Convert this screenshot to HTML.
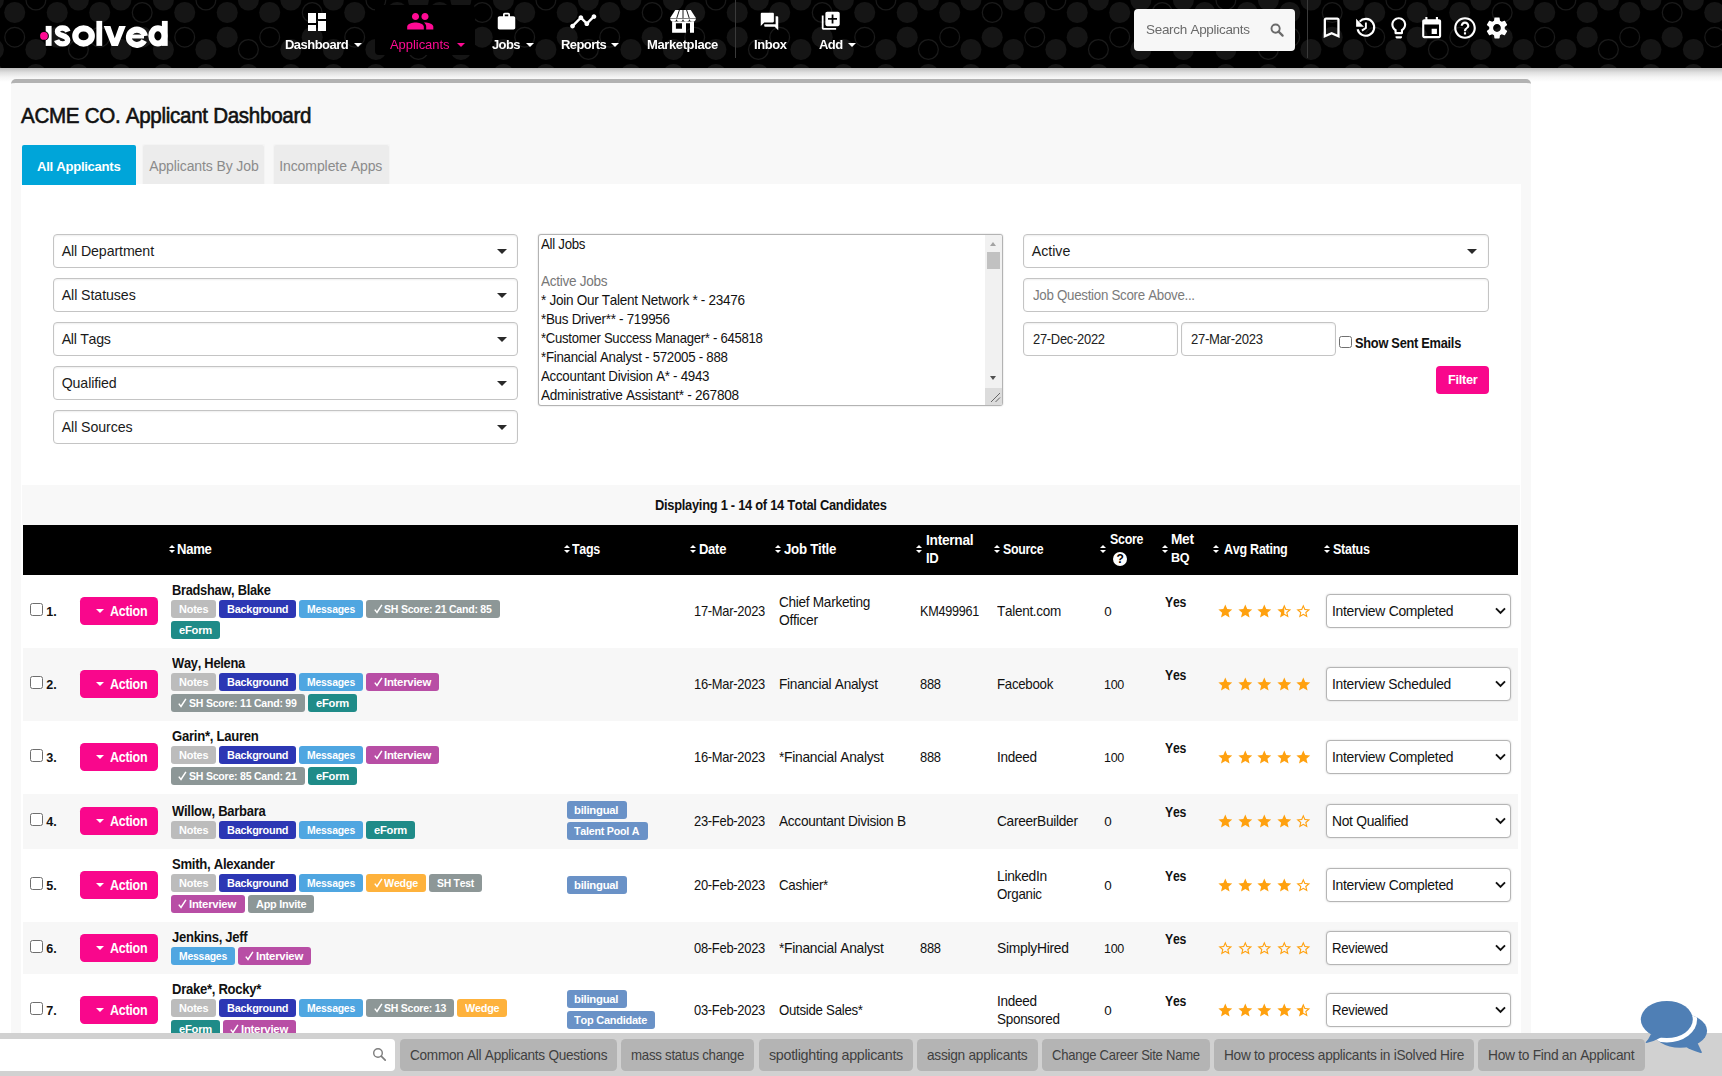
<!DOCTYPE html>
<html><head><meta charset="utf-8"><title>Applicant Dashboard</title>
<style>
*{box-sizing:border-box;margin:0;padding:0}
html,body{width:1722px;height:1076px;overflow:hidden;background:#fff;font-family:"Liberation Sans",sans-serif;color:#111;font-kerning:none}
body{position:relative}
#w{position:absolute;left:0;top:0;width:1722px;height:1076px;overflow:hidden}
.abs{position:absolute}
.t{position:absolute;white-space:pre;transform-origin:0 0}
#hdr{position:absolute;left:0;top:0;width:1722px;height:68px;background:#000;overflow:hidden;will-change:transform}
#hdr svg.pat{position:absolute;left:0;top:0}
#shadow{position:absolute;left:0;top:68px;width:1722px;height:14px;background:linear-gradient(#bcbcbc,#dedede 30%,#f4f4f4 65%,#fff)}
.vdiv{position:absolute;top:0;width:1px;height:58px;background:#3a3a3a}
</style></head>
<body>
<div id="w">
<div id="shadow"></div>
<div class="abs" style="left:11px;top:79px;width:1520px;height:1000px;background:#f8f8f8;border-top:4px solid #b2b2b2;border-radius:5px 5px 0 0"></div>
<div class="t" style="left:21.0px;top:102.6px;font-size:21.4px;line-height:26px;letter-spacing:-0.3px;transform:scaleX(0.961);-webkit-text-stroke:0.6px #111;">ACME CO. Applicant Dashboard</div>
<div class="abs" style="left:22px;top:145px;width:114.3px;height:40px;background:#00a5d9;border-radius:2px 2px 0 0;z-index:1"></div>
<div class="t" style="left:37.0px;top:158.3px;font-size:13.5px;line-height:18px;letter-spacing:-0.3px;transform:scaleX(0.972);font-weight:bold;color:#fff;z-index:2;">All Applicants</div>
<div class="abs" style="left:142px;top:144px;width:123px;height:40px;background:#ececec;border:1px solid #f4f4f4;border-bottom:0;border-radius:3px 3px 0 0"></div>
<div class="t" style="left:149.2px;top:157.4px;font-size:14px;line-height:18px;letter-spacing:-0.11px;color:#8b8b8b;">Applicants By Job</div>
<div class="abs" style="left:272.5px;top:144px;width:117px;height:40px;background:#ececec;border:1px solid #f4f4f4;border-bottom:0;border-radius:3px 3px 0 0"></div>
<div class="t" style="left:279.2px;top:157.4px;font-size:14px;line-height:18px;letter-spacing:-0.08px;color:#8b8b8b;">Incomplete Apps</div>
<div class="abs" style="left:21px;top:184px;width:1500.2px;height:900px;background:#fff;"></div>
<div class="abs" style="left:22px;top:485px;width:1498.2px;height:39.6px;background:#f8f8f8;"></div>
<div class="abs" style="left:53.2px;top:234px;width:464.6px;height:33.5px;background:#fff;border:1px solid #c4c4c4;border-radius:4px;box-shadow:inset 0 1px 2px rgba(0,0,0,.07)"></div>
<div class="t" style="left:61.7px;top:241.7px;font-size:14.2px;line-height:18px;letter-spacing:-0.11px;color:#1a1a1a;">All Department</div>
<div class="abs" style="left:496.50000000000006px;top:249.2px;border-left:5.2px solid transparent;border-right:5.2px solid transparent;border-top:5.5px solid #2a2a2a"></div>
<div class="abs" style="left:53.2px;top:278px;width:464.6px;height:33.5px;background:#fff;border:1px solid #c4c4c4;border-radius:4px;box-shadow:inset 0 1px 2px rgba(0,0,0,.07)"></div>
<div class="t" style="left:61.7px;top:285.7px;font-size:14.2px;line-height:18px;letter-spacing:-0.08px;color:#1a1a1a;">All Statuses</div>
<div class="abs" style="left:496.50000000000006px;top:293.2px;border-left:5.2px solid transparent;border-right:5.2px solid transparent;border-top:5.5px solid #2a2a2a"></div>
<div class="abs" style="left:53.2px;top:322px;width:464.6px;height:33.5px;background:#fff;border:1px solid #c4c4c4;border-radius:4px;box-shadow:inset 0 1px 2px rgba(0,0,0,.07)"></div>
<div class="t" style="left:61.7px;top:329.7px;font-size:14.2px;line-height:18px;letter-spacing:-0.3px;color:#1a1a1a;">All Tags</div>
<div class="abs" style="left:496.50000000000006px;top:337.2px;border-left:5.2px solid transparent;border-right:5.2px solid transparent;border-top:5.5px solid #2a2a2a"></div>
<div class="abs" style="left:53.2px;top:366px;width:464.6px;height:33.5px;background:#fff;border:1px solid #c4c4c4;border-radius:4px;box-shadow:inset 0 1px 2px rgba(0,0,0,.07)"></div>
<div class="t" style="left:61.7px;top:373.7px;font-size:14.2px;line-height:18px;letter-spacing:-0.12px;color:#1a1a1a;">Qualified</div>
<div class="abs" style="left:496.50000000000006px;top:381.2px;border-left:5.2px solid transparent;border-right:5.2px solid transparent;border-top:5.5px solid #2a2a2a"></div>
<div class="abs" style="left:53.2px;top:410px;width:464.6px;height:33.5px;background:#fff;border:1px solid #c4c4c4;border-radius:4px;box-shadow:inset 0 1px 2px rgba(0,0,0,.07)"></div>
<div class="t" style="left:61.7px;top:417.7px;font-size:14.2px;line-height:18px;letter-spacing:-0.08px;color:#1a1a1a;">All Sources</div>
<div class="abs" style="left:496.50000000000006px;top:425.2px;border-left:5.2px solid transparent;border-right:5.2px solid transparent;border-top:5.5px solid #2a2a2a"></div>
<div class="abs" style="left:1023.3px;top:234px;width:465.4px;height:33.5px;background:#fff;border:1px solid #c4c4c4;border-radius:4px;box-shadow:inset 0 1px 2px rgba(0,0,0,.07)"></div>
<div class="t" style="left:1031.8px;top:241.7px;font-size:14.2px;line-height:18px;letter-spacing:-0.03px;color:#1a1a1a;">Active</div>
<div class="abs" style="left:1467.3999999999999px;top:249.2px;border-left:5.2px solid transparent;border-right:5.2px solid transparent;border-top:5.5px solid #2a2a2a"></div>
<div class="abs" style="left:1023.3px;top:278.2px;width:465.4px;height:33.5px;background:#fff;border:1px solid #c4c4c4;border-radius:4px;box-shadow:inset 0 1px 2px rgba(0,0,0,.07)"></div>
<div class="t" style="left:1032.8px;top:285.9px;font-size:14px;line-height:18px;letter-spacing:-0.3px;transform:scaleX(0.951);color:#7b7b7b;">Job Question Score Above...</div>
<div class="abs" style="left:1023.3px;top:322.3px;width:154.4px;height:33.5px;background:#fff;border:1px solid #c4c4c4;border-radius:4px;box-shadow:inset 0 1px 2px rgba(0,0,0,.07)"></div>
<div class="t" style="left:1032.8px;top:330.0px;font-size:14px;line-height:18px;letter-spacing:-0.3px;transform:scaleX(0.924);color:#222;">27-Dec-2022</div>
<div class="abs" style="left:1181.2px;top:322.3px;width:154.4px;height:33.5px;background:#fff;border:1px solid #c4c4c4;border-radius:4px;box-shadow:inset 0 1px 2px rgba(0,0,0,.07)"></div>
<div class="t" style="left:1190.7px;top:330.0px;font-size:14px;line-height:18px;letter-spacing:-0.3px;transform:scaleX(0.933);color:#222;">27-Mar-2023</div>
<div class="abs" style="left:1339.3px;top:335.5px;width:12.5px;height:12.5px;background:#fff;border:1px solid #707070;border-radius:2.5px"></div>
<div class="t" style="left:1355.3px;top:333.7px;font-size:14.2px;line-height:18px;letter-spacing:-0.3px;transform:scaleX(0.903);font-weight:bold;">Show Sent Emails</div>
<div class="abs" style="left:1436px;top:366.2px;width:53px;height:27.5px;background:#f9078c;border-radius:4px"></div>
<div class="t" style="left:1447.7px;top:371.3px;font-size:13.5px;line-height:18px;letter-spacing:-0.3px;transform:scaleX(0.946);font-weight:bold;color:#fff;">Filter</div>
<div class="abs" style="left:538px;top:234px;width:465px;height:172px;background:#fff;border:1px solid #b3b3b3;border-radius:3px;box-shadow:0 0 1.5px rgba(0,0,0,.25)"></div>
<div class="t" style="left:541.0px;top:235.3px;font-size:14.3px;line-height:18px;letter-spacing:-0.3px;transform:scaleX(0.928);">All Jobs</div>
<div class="t" style="left:541.0px;top:271.9px;font-size:14.3px;line-height:18px;letter-spacing:-0.3px;transform:scaleX(0.949);color:#777;">Active Jobs</div>
<div class="t" style="left:541.0px;top:290.9px;font-size:14.3px;line-height:18px;letter-spacing:-0.3px;transform:scaleX(0.947);">* Join Our Talent Network * - 23476</div>
<div class="t" style="left:541.0px;top:309.9px;font-size:14.3px;line-height:18px;letter-spacing:-0.3px;transform:scaleX(0.938);">*Bus Driver** - 719956</div>
<div class="t" style="left:541.0px;top:328.9px;font-size:14.3px;line-height:18px;letter-spacing:-0.3px;transform:scaleX(0.918);">*Customer Success Manager* - 645818</div>
<div class="t" style="left:541.0px;top:347.9px;font-size:14.3px;line-height:18px;letter-spacing:-0.3px;transform:scaleX(0.93);">*Financial Analyst - 572005 - 888</div>
<div class="t" style="left:541.0px;top:366.9px;font-size:14.3px;line-height:18px;letter-spacing:-0.3px;transform:scaleX(0.932);">Accountant Division A* - 4943</div>
<div class="t" style="left:541.0px;top:385.9px;font-size:14.3px;line-height:18px;letter-spacing:-0.3px;transform:scaleX(0.953);">Administrative Assistant* - 267808</div>
<div class="abs" style="left:985px;top:235px;width:17px;height:170px;background:#f1f1f1;border-radius:0 2px 2px 0"></div>
<div class="abs" style="left:987.2px;top:252px;width:12.8px;height:17px;background:#c1c1c1;"></div>
<div class="abs" style="left:989.8px;top:241.8px;border-left:3.8px solid transparent;border-right:3.8px solid transparent;border-bottom:4.2px solid #a3a3a3"></div>
<div class="abs" style="left:989.8px;top:376.4px;border-left:3.8px solid transparent;border-right:3.8px solid transparent;border-top:4.2px solid #505050"></div>
<div class="abs" style="left:985px;top:388px;width:17px;height:17px;background:#dcdcdc;border-radius:0 0 2px 0"></div><svg class="abs" style="left:990px;top:392px" width="11" height="11" viewBox="0 0 11 11"><path d="M10 1L1 10M10 5.5L5.5 10" stroke="#666" stroke-width="1" fill="none"/></svg>
<div class="t" style="left:655.0px;top:496.0px;font-size:14.2px;line-height:18px;letter-spacing:-0.3px;transform:scaleX(0.907);font-weight:bold;">Displaying 1 - 14 of 14 Total Candidates</div>
<div class="abs" style="left:23px;top:525px;width:1495.2px;height:50px;background:#000;"></div>
<div class="abs" style="left:168.5px;top:545.0px;border-left:3.1px solid transparent;border-right:3.1px solid transparent;border-bottom:3.9px solid #fff"></div>
<div class="abs" style="left:168.5px;top:550.0px;border-left:3.1px solid transparent;border-right:3.1px solid transparent;border-top:3.9px solid #fff"></div>
<div class="t" style="left:177.3px;top:539.6px;font-size:14px;line-height:18px;letter-spacing:-0.3px;transform:scaleX(0.937);font-weight:bold;color:#fff;">Name</div>
<div class="abs" style="left:563.5px;top:545.0px;border-left:3.1px solid transparent;border-right:3.1px solid transparent;border-bottom:3.9px solid #fff"></div>
<div class="abs" style="left:563.5px;top:550.0px;border-left:3.1px solid transparent;border-right:3.1px solid transparent;border-top:3.9px solid #fff"></div>
<div class="t" style="left:572.3px;top:539.6px;font-size:14px;line-height:18px;letter-spacing:-0.3px;transform:scaleX(0.89);font-weight:bold;color:#fff;">Tags</div>
<div class="abs" style="left:690.2px;top:545.0px;border-left:3.1px solid transparent;border-right:3.1px solid transparent;border-bottom:3.9px solid #fff"></div>
<div class="abs" style="left:690.2px;top:550.0px;border-left:3.1px solid transparent;border-right:3.1px solid transparent;border-top:3.9px solid #fff"></div>
<div class="t" style="left:699.3px;top:539.6px;font-size:14px;line-height:18px;letter-spacing:-0.3px;transform:scaleX(0.93);font-weight:bold;color:#fff;">Date</div>
<div class="abs" style="left:775.2px;top:545.0px;border-left:3.1px solid transparent;border-right:3.1px solid transparent;border-bottom:3.9px solid #fff"></div>
<div class="abs" style="left:775.2px;top:550.0px;border-left:3.1px solid transparent;border-right:3.1px solid transparent;border-top:3.9px solid #fff"></div>
<div class="t" style="left:784.3px;top:539.6px;font-size:14px;line-height:18px;letter-spacing:-0.3px;transform:scaleX(0.95);font-weight:bold;color:#fff;">Job Title</div>
<div class="abs" style="left:916.2px;top:545.0px;border-left:3.1px solid transparent;border-right:3.1px solid transparent;border-bottom:3.9px solid #fff"></div>
<div class="abs" style="left:916.2px;top:550.0px;border-left:3.1px solid transparent;border-right:3.1px solid transparent;border-top:3.9px solid #fff"></div>
<div class="t" style="left:925.7px;top:530.9px;font-size:14px;line-height:18px;letter-spacing:-0.3px;transform:scaleX(0.982);font-weight:bold;color:#fff;">Internal</div>
<div class="t" style="left:925.7px;top:548.7px;font-size:14px;line-height:18px;letter-spacing:-0.3px;transform:scaleX(0.934);font-weight:bold;color:#fff;">ID</div>
<div class="abs" style="left:993.5px;top:545.0px;border-left:3.1px solid transparent;border-right:3.1px solid transparent;border-bottom:3.9px solid #fff"></div>
<div class="abs" style="left:993.5px;top:550.0px;border-left:3.1px solid transparent;border-right:3.1px solid transparent;border-top:3.9px solid #fff"></div>
<div class="t" style="left:1002.7px;top:539.6px;font-size:14px;line-height:18px;letter-spacing:-0.3px;transform:scaleX(0.883);font-weight:bold;color:#fff;">Source</div>
<div class="abs" style="left:1100.2px;top:545.0px;border-left:3.1px solid transparent;border-right:3.1px solid transparent;border-bottom:3.9px solid #fff"></div>
<div class="abs" style="left:1100.2px;top:550.0px;border-left:3.1px solid transparent;border-right:3.1px solid transparent;border-top:3.9px solid #fff"></div>
<div class="t" style="left:1109.8px;top:530.2px;font-size:14px;line-height:18px;letter-spacing:-0.3px;transform:scaleX(0.888);font-weight:bold;color:#fff;">Score</div>
<div class="abs" style="left:1112.8px;top:551.9px;width:14.4px;height:14.4px;border-radius:50%;background:#fff"></div>
<div class="t" style="left:1116.6px;top:550.4px;font-size:12px;line-height:18px;font-weight:bold;color:#000;">?</div>
<div class="abs" style="left:1162.3px;top:545.0px;border-left:3.1px solid transparent;border-right:3.1px solid transparent;border-bottom:3.9px solid #fff"></div>
<div class="abs" style="left:1162.3px;top:550.0px;border-left:3.1px solid transparent;border-right:3.1px solid transparent;border-top:3.9px solid #fff"></div>
<div class="t" style="left:1171.4px;top:530.2px;font-size:14px;line-height:18px;letter-spacing:-0.3px;transform:scaleX(0.978);font-weight:bold;color:#fff;">Met</div>
<div class="t" style="left:1171.4px;top:548.9px;font-size:13.6px;line-height:18px;letter-spacing:-0.3px;transform:scaleX(0.926);font-weight:bold;color:#fff;">BQ</div>
<div class="abs" style="left:1212.6px;top:545.0px;border-left:3.1px solid transparent;border-right:3.1px solid transparent;border-bottom:3.9px solid #fff"></div>
<div class="abs" style="left:1212.6px;top:550.0px;border-left:3.1px solid transparent;border-right:3.1px solid transparent;border-top:3.9px solid #fff"></div>
<div class="t" style="left:1223.9px;top:539.6px;font-size:14px;line-height:18px;letter-spacing:-0.3px;transform:scaleX(0.896);font-weight:bold;color:#fff;">Avg Rating</div>
<div class="abs" style="left:1323.7px;top:545.0px;border-left:3.1px solid transparent;border-right:3.1px solid transparent;border-bottom:3.9px solid #fff"></div>
<div class="abs" style="left:1323.7px;top:550.0px;border-left:3.1px solid transparent;border-right:3.1px solid transparent;border-top:3.9px solid #fff"></div>
<div class="t" style="left:1332.8px;top:539.6px;font-size:14px;line-height:18px;letter-spacing:-0.3px;transform:scaleX(0.894);font-weight:bold;color:#fff;">Status</div>
<div class="abs" style="left:23px;top:575px;width:1495.2px;height:72.8px;background:#fff;"></div>
<div class="abs" style="left:30.2px;top:602.8px;width:13px;height:13px;background:#fff;border:1px solid #6e6e6e;border-radius:2.5px"></div>
<div class="t" style="left:46.2px;top:602.8px;font-size:12.6px;line-height:18px;font-weight:bold;">1.</div>
<div class="abs" style="left:80px;top:597px;width:78px;height:28px;background:#f9078c;border-radius:4.5px"></div>
<div class="abs" style="left:96.2px;top:609.4px;border-left:4.2px solid transparent;border-right:4.2px solid transparent;border-top:4.6px solid #fff"></div>
<div class="t" style="left:110.0px;top:602.4px;font-size:14px;line-height:18px;letter-spacing:-0.3px;transform:scaleX(0.892);font-weight:bold;color:#fff;">Action</div>
<div class="t" style="left:172.0px;top:581.3px;font-size:14px;line-height:18px;letter-spacing:-0.3px;transform:scaleX(0.916);font-weight:bold;">Bradshaw, Blake</div>
<div class="abs" style="left:171.2px;top:600px;width:44.8px;height:17.8px;background:#bcbcbc;border-radius:3px"></div>
<div class="t" style="left:178.8px;top:602.1px;font-size:11.7px;line-height:14px;letter-spacing:-0.25px;transform:scaleX(0.937);font-weight:bold;color:#fff;">Notes</div>
<div class="abs" style="left:219.2px;top:600px;width:77px;height:17.8px;background:#2c37b4;border-radius:3px"></div>
<div class="t" style="left:226.8px;top:602.1px;font-size:11.7px;line-height:14px;letter-spacing:-0.25px;transform:scaleX(0.933);font-weight:bold;color:#fff;">Background</div>
<div class="abs" style="left:299.2px;top:600px;width:64px;height:17.8px;background:#4fa6e1;border-radius:3px"></div>
<div class="t" style="left:306.8px;top:602.1px;font-size:11.7px;line-height:14px;letter-spacing:-0.25px;transform:scaleX(0.89);font-weight:bold;color:#fff;">Messages</div>
<div class="abs" style="left:366.3px;top:600px;width:133.5px;height:17.8px;background:#8d9797;border-radius:3px"></div><svg class="abs" style="left:373.6px;top:604.3px" width="9" height="10" viewBox="0 0 9 10"><path d="M0.8 5.6 L3 8.4 L7.9 0.9" stroke="#fff" stroke-width="1.5" fill="none"/></svg>
<div class="t" style="left:384.2px;top:602.1px;font-size:11.7px;line-height:14px;letter-spacing:-0.25px;transform:scaleX(0.901);font-weight:bold;color:#fff;">SH Score: 21 Cand: 85</div>
<div class="abs" style="left:171px;top:621px;width:49px;height:17.8px;background:#1f8b88;border-radius:3px"></div>
<div class="t" style="left:178.6px;top:623.1px;font-size:11.7px;line-height:14px;letter-spacing:-0.25px;transform:scaleX(0.956);font-weight:bold;color:#fff;">eForm</div>
<div class="t" style="left:694.0px;top:602.2px;font-size:14.4px;line-height:18px;letter-spacing:-0.3px;transform:scaleX(0.898);">17-Mar-2023</div>
<div class="t" style="left:778.7px;top:593.2px;font-size:14.4px;line-height:18px;letter-spacing:-0.3px;transform:scaleX(0.945);">Chief Marketing</div>
<div class="t" style="left:778.7px;top:611.2px;font-size:14.4px;line-height:18px;letter-spacing:-0.3px;transform:scaleX(0.961);">Officer</div>
<div class="t" style="left:920.0px;top:602.2px;font-size:14.4px;line-height:18px;letter-spacing:-0.3px;transform:scaleX(0.878);">KM499961</div>
<div class="t" style="left:996.7px;top:602.2px;font-size:14.4px;line-height:18px;letter-spacing:-0.3px;transform:scaleX(0.939);">Talent.com</div>
<div class="t" style="left:1104.2px;top:602.7px;font-size:13.4px;line-height:18px;">0</div>
<div class="t" style="left:1165.2px;top:593.6px;font-size:13.8px;line-height:18px;letter-spacing:-0.3px;transform:scaleX(0.889);font-weight:bold;">Yes</div><svg class="abs" style="left:1217.0px;top:602.7px" width="16.6" height="16.6" viewBox="0 0 24 24"><path fill="#ffa10f" d="M12 17.27L18.18 21l-1.64-7.030L22 9.240l-7.190-.610L12 2 9.190 8.630 2 9.240l5.460 4.730L5.820 21z"/></svg><svg class="abs" style="left:1236.6px;top:602.7px" width="16.6" height="16.6" viewBox="0 0 24 24"><path fill="#ffa10f" d="M12 17.27L18.18 21l-1.64-7.030L22 9.240l-7.190-.610L12 2 9.190 8.630 2 9.240l5.460 4.730L5.820 21z"/></svg><svg class="abs" style="left:1256.2px;top:602.7px" width="16.6" height="16.6" viewBox="0 0 24 24"><path fill="#ffa10f" d="M12 17.27L18.18 21l-1.64-7.030L22 9.240l-7.190-.610L12 2 9.190 8.630 2 9.240l5.460 4.730L5.820 21z"/></svg><svg class="abs" style="left:1275.8px;top:602.7px" width="16.6" height="16.6" viewBox="0 0 24 24"><path fill="#ffa10f" d="M22 9.240l-7.190-.620L12 2 9.190 8.630 2 9.240l5.460 4.730L5.820 21 12 17.270 18.180 21l-1.630-7.030L22 9.240zM12 15.400V6.100l1.710 4.040 4.380.380-3.320 2.880 1 4.280L12 15.400z"/></svg><svg class="abs" style="left:1295.4px;top:602.7px" width="16.6" height="16.6" viewBox="0 0 24 24"><path fill="#ffa10f" d="M22 9.240l-7.190-.620L12 2 9.190 8.630 2 9.240l5.460 4.730L5.820 21 12 17.270 18.180 21l-1.630-7.030L22 9.240zM12 15.400l-3.760 2.270 1-4.280-3.320-2.880 4.380-.380L12 6.100l1.710 4.040 4.380.380-3.320 2.880 1 4.280L12 15.400z"/></svg>
<div class="abs" style="left:1326px;top:594px;width:184.7px;height:33.6px;background:#fff;border:1px solid #b5b5b5;border-radius:4px;box-shadow:0 0 2px rgba(0,0,0,.18)"></div>
<div class="t" style="left:1332.0px;top:602.4px;font-size:14.5px;line-height:18px;letter-spacing:-0.3px;transform:scaleX(0.959);">Interview Completed</div><svg class="abs" style="left:1495.3px;top:607.4px" width="11" height="8" viewBox="0 0 11 8"><path d="M1 1.3L5.500 6 10 1.300" stroke="#111" stroke-width="1.9" fill="none"/></svg>
<div class="abs" style="left:23px;top:647.8px;width:1495.2px;height:73.2px;background:#f7f7f7;"></div>
<div class="abs" style="left:30.2px;top:675.8px;width:13px;height:13px;background:#fff;border:1px solid #6e6e6e;border-radius:2.5px"></div>
<div class="t" style="left:46.2px;top:675.8px;font-size:12.6px;line-height:18px;font-weight:bold;">2.</div>
<div class="abs" style="left:80px;top:670px;width:78px;height:28px;background:#f9078c;border-radius:4.5px"></div>
<div class="abs" style="left:96.2px;top:682.4px;border-left:4.2px solid transparent;border-right:4.2px solid transparent;border-top:4.6px solid #fff"></div>
<div class="t" style="left:110.0px;top:675.4px;font-size:14px;line-height:18px;letter-spacing:-0.3px;transform:scaleX(0.892);font-weight:bold;color:#fff;">Action</div>
<div class="t" style="left:172.0px;top:654.1px;font-size:14px;line-height:18px;letter-spacing:-0.3px;transform:scaleX(0.922);font-weight:bold;">Way, Helena</div>
<div class="abs" style="left:171.2px;top:673px;width:44.8px;height:17.8px;background:#bcbcbc;border-radius:3px"></div>
<div class="t" style="left:178.8px;top:675.1px;font-size:11.7px;line-height:14px;letter-spacing:-0.25px;transform:scaleX(0.937);font-weight:bold;color:#fff;">Notes</div>
<div class="abs" style="left:219.2px;top:673px;width:77px;height:17.8px;background:#2c37b4;border-radius:3px"></div>
<div class="t" style="left:226.8px;top:675.1px;font-size:11.7px;line-height:14px;letter-spacing:-0.25px;transform:scaleX(0.933);font-weight:bold;color:#fff;">Background</div>
<div class="abs" style="left:299.2px;top:673px;width:64px;height:17.8px;background:#4fa6e1;border-radius:3px"></div>
<div class="t" style="left:306.8px;top:675.1px;font-size:11.7px;line-height:14px;letter-spacing:-0.25px;transform:scaleX(0.89);font-weight:bold;color:#fff;">Messages</div>
<div class="abs" style="left:366.3px;top:673px;width:72.8px;height:17.8px;background:#b84ea5;border-radius:3px"></div><svg class="abs" style="left:373.6px;top:677.3px" width="9" height="10" viewBox="0 0 9 10"><path d="M0.8 5.6 L3 8.4 L7.9 0.9" stroke="#fff" stroke-width="1.5" fill="none"/></svg>
<div class="t" style="left:384.2px;top:675.1px;font-size:11.7px;line-height:14px;letter-spacing:-0.25px;transform:scaleX(0.97);font-weight:bold;color:#fff;">Interview</div>
<div class="abs" style="left:171px;top:694px;width:133.8px;height:17.8px;background:#8d9797;border-radius:3px"></div><svg class="abs" style="left:178.3px;top:698.3px" width="9" height="10" viewBox="0 0 9 10"><path d="M0.8 5.6 L3 8.4 L7.9 0.9" stroke="#fff" stroke-width="1.5" fill="none"/></svg>
<div class="t" style="left:188.9px;top:696.1px;font-size:11.7px;line-height:14px;letter-spacing:-0.25px;transform:scaleX(0.901);font-weight:bold;color:#fff;">SH Score: 11 Cand: 99</div>
<div class="abs" style="left:308px;top:694px;width:49px;height:17.8px;background:#1f8b88;border-radius:3px"></div>
<div class="t" style="left:315.6px;top:696.1px;font-size:11.7px;line-height:14px;letter-spacing:-0.25px;transform:scaleX(0.956);font-weight:bold;color:#fff;">eForm</div>
<div class="t" style="left:694.0px;top:675.2px;font-size:14.4px;line-height:18px;letter-spacing:-0.3px;transform:scaleX(0.898);">16-Mar-2023</div>
<div class="t" style="left:778.7px;top:675.2px;font-size:14.4px;line-height:18px;letter-spacing:-0.3px;transform:scaleX(0.952);">Financial Analyst</div>
<div class="t" style="left:920.0px;top:675.2px;font-size:14.4px;line-height:18px;letter-spacing:-0.3px;transform:scaleX(0.897);">888</div>
<div class="t" style="left:996.7px;top:675.2px;font-size:14.4px;line-height:18px;letter-spacing:-0.3px;transform:scaleX(0.921);">Facebook</div>
<div class="t" style="left:1104.2px;top:675.7px;font-size:13.4px;line-height:18px;letter-spacing:-0.3px;transform:scaleX(0.934);">100</div>
<div class="t" style="left:1165.2px;top:666.6px;font-size:13.8px;line-height:18px;letter-spacing:-0.3px;transform:scaleX(0.889);font-weight:bold;">Yes</div><svg class="abs" style="left:1217.0px;top:675.7px" width="16.6" height="16.6" viewBox="0 0 24 24"><path fill="#ffa10f" d="M12 17.27L18.18 21l-1.64-7.030L22 9.240l-7.190-.610L12 2 9.190 8.630 2 9.240l5.460 4.730L5.820 21z"/></svg><svg class="abs" style="left:1236.6px;top:675.7px" width="16.6" height="16.6" viewBox="0 0 24 24"><path fill="#ffa10f" d="M12 17.27L18.18 21l-1.64-7.030L22 9.240l-7.190-.610L12 2 9.190 8.630 2 9.240l5.460 4.730L5.820 21z"/></svg><svg class="abs" style="left:1256.2px;top:675.7px" width="16.6" height="16.6" viewBox="0 0 24 24"><path fill="#ffa10f" d="M12 17.27L18.18 21l-1.64-7.030L22 9.240l-7.190-.610L12 2 9.190 8.630 2 9.240l5.460 4.730L5.820 21z"/></svg><svg class="abs" style="left:1275.8px;top:675.7px" width="16.6" height="16.6" viewBox="0 0 24 24"><path fill="#ffa10f" d="M12 17.27L18.18 21l-1.64-7.030L22 9.240l-7.190-.610L12 2 9.190 8.630 2 9.240l5.460 4.730L5.820 21z"/></svg><svg class="abs" style="left:1295.4px;top:675.7px" width="16.6" height="16.6" viewBox="0 0 24 24"><path fill="#ffa10f" d="M12 17.27L18.18 21l-1.64-7.030L22 9.240l-7.190-.610L12 2 9.190 8.630 2 9.240l5.460 4.730L5.820 21z"/></svg>
<div class="abs" style="left:1326px;top:667px;width:184.7px;height:33.6px;background:#fff;border:1px solid #b5b5b5;border-radius:4px;box-shadow:0 0 2px rgba(0,0,0,.18)"></div>
<div class="t" style="left:1332.0px;top:675.4px;font-size:14.5px;line-height:18px;letter-spacing:-0.3px;transform:scaleX(0.953);">Interview Scheduled</div><svg class="abs" style="left:1495.3px;top:680.4px" width="11" height="8" viewBox="0 0 11 8"><path d="M1 1.3L5.500 6 10 1.300" stroke="#111" stroke-width="1.9" fill="none"/></svg>
<div class="abs" style="left:23px;top:721px;width:1495.2px;height:73px;background:#fff;"></div>
<div class="abs" style="left:30.2px;top:748.8px;width:13px;height:13px;background:#fff;border:1px solid #6e6e6e;border-radius:2.5px"></div>
<div class="t" style="left:46.2px;top:748.8px;font-size:12.6px;line-height:18px;font-weight:bold;">3.</div>
<div class="abs" style="left:80px;top:743px;width:78px;height:28px;background:#f9078c;border-radius:4.5px"></div>
<div class="abs" style="left:96.2px;top:755.4px;border-left:4.2px solid transparent;border-right:4.2px solid transparent;border-top:4.6px solid #fff"></div>
<div class="t" style="left:110.0px;top:748.4px;font-size:14px;line-height:18px;letter-spacing:-0.3px;transform:scaleX(0.892);font-weight:bold;color:#fff;">Action</div>
<div class="t" style="left:172.0px;top:727.3px;font-size:14px;line-height:18px;letter-spacing:-0.3px;transform:scaleX(0.938);font-weight:bold;">Garin*, Lauren</div>
<div class="abs" style="left:171.2px;top:746px;width:44.8px;height:17.8px;background:#bcbcbc;border-radius:3px"></div>
<div class="t" style="left:178.8px;top:748.1px;font-size:11.7px;line-height:14px;letter-spacing:-0.25px;transform:scaleX(0.937);font-weight:bold;color:#fff;">Notes</div>
<div class="abs" style="left:219.2px;top:746px;width:77px;height:17.8px;background:#2c37b4;border-radius:3px"></div>
<div class="t" style="left:226.8px;top:748.1px;font-size:11.7px;line-height:14px;letter-spacing:-0.25px;transform:scaleX(0.933);font-weight:bold;color:#fff;">Background</div>
<div class="abs" style="left:299.2px;top:746px;width:64px;height:17.8px;background:#4fa6e1;border-radius:3px"></div>
<div class="t" style="left:306.8px;top:748.1px;font-size:11.7px;line-height:14px;letter-spacing:-0.25px;transform:scaleX(0.89);font-weight:bold;color:#fff;">Messages</div>
<div class="abs" style="left:366.3px;top:746px;width:72.8px;height:17.8px;background:#b84ea5;border-radius:3px"></div><svg class="abs" style="left:373.6px;top:750.3px" width="9" height="10" viewBox="0 0 9 10"><path d="M0.8 5.6 L3 8.4 L7.9 0.9" stroke="#fff" stroke-width="1.5" fill="none"/></svg>
<div class="t" style="left:384.2px;top:748.1px;font-size:11.7px;line-height:14px;letter-spacing:-0.25px;transform:scaleX(0.97);font-weight:bold;color:#fff;">Interview</div>
<div class="abs" style="left:171px;top:767px;width:133.8px;height:17.8px;background:#8d9797;border-radius:3px"></div><svg class="abs" style="left:178.3px;top:771.3px" width="9" height="10" viewBox="0 0 9 10"><path d="M0.8 5.6 L3 8.4 L7.9 0.9" stroke="#fff" stroke-width="1.5" fill="none"/></svg>
<div class="t" style="left:188.9px;top:769.1px;font-size:11.7px;line-height:14px;letter-spacing:-0.25px;transform:scaleX(0.901);font-weight:bold;color:#fff;">SH Score: 85 Cand: 21</div>
<div class="abs" style="left:308px;top:767px;width:49px;height:17.8px;background:#1f8b88;border-radius:3px"></div>
<div class="t" style="left:315.6px;top:769.1px;font-size:11.7px;line-height:14px;letter-spacing:-0.25px;transform:scaleX(0.956);font-weight:bold;color:#fff;">eForm</div>
<div class="t" style="left:694.0px;top:748.2px;font-size:14.4px;line-height:18px;letter-spacing:-0.3px;transform:scaleX(0.898);">16-Mar-2023</div>
<div class="t" style="left:778.7px;top:748.2px;font-size:14.4px;line-height:18px;letter-spacing:-0.3px;transform:scaleX(0.959);">*Financial Analyst</div>
<div class="t" style="left:920.0px;top:748.2px;font-size:14.4px;line-height:18px;letter-spacing:-0.3px;transform:scaleX(0.897);">888</div>
<div class="t" style="left:996.7px;top:748.2px;font-size:14.4px;line-height:18px;letter-spacing:-0.3px;transform:scaleX(0.941);">Indeed</div>
<div class="t" style="left:1104.2px;top:748.7px;font-size:13.4px;line-height:18px;letter-spacing:-0.3px;transform:scaleX(0.934);">100</div>
<div class="t" style="left:1165.2px;top:739.6px;font-size:13.8px;line-height:18px;letter-spacing:-0.3px;transform:scaleX(0.889);font-weight:bold;">Yes</div><svg class="abs" style="left:1217.0px;top:748.7px" width="16.6" height="16.6" viewBox="0 0 24 24"><path fill="#ffa10f" d="M12 17.27L18.18 21l-1.64-7.030L22 9.240l-7.190-.610L12 2 9.190 8.630 2 9.240l5.460 4.730L5.820 21z"/></svg><svg class="abs" style="left:1236.6px;top:748.7px" width="16.6" height="16.6" viewBox="0 0 24 24"><path fill="#ffa10f" d="M12 17.27L18.18 21l-1.64-7.030L22 9.240l-7.190-.610L12 2 9.190 8.630 2 9.240l5.460 4.730L5.820 21z"/></svg><svg class="abs" style="left:1256.2px;top:748.7px" width="16.6" height="16.6" viewBox="0 0 24 24"><path fill="#ffa10f" d="M12 17.27L18.18 21l-1.64-7.030L22 9.240l-7.190-.610L12 2 9.190 8.630 2 9.240l5.460 4.730L5.820 21z"/></svg><svg class="abs" style="left:1275.8px;top:748.7px" width="16.6" height="16.6" viewBox="0 0 24 24"><path fill="#ffa10f" d="M12 17.27L18.18 21l-1.64-7.030L22 9.240l-7.190-.610L12 2 9.190 8.630 2 9.240l5.460 4.730L5.820 21z"/></svg><svg class="abs" style="left:1295.4px;top:748.7px" width="16.6" height="16.6" viewBox="0 0 24 24"><path fill="#ffa10f" d="M12 17.27L18.18 21l-1.64-7.030L22 9.240l-7.190-.610L12 2 9.190 8.630 2 9.240l5.460 4.730L5.820 21z"/></svg>
<div class="abs" style="left:1326px;top:740px;width:184.7px;height:33.6px;background:#fff;border:1px solid #b5b5b5;border-radius:4px;box-shadow:0 0 2px rgba(0,0,0,.18)"></div>
<div class="t" style="left:1332.0px;top:748.4px;font-size:14.5px;line-height:18px;letter-spacing:-0.3px;transform:scaleX(0.959);">Interview Completed</div><svg class="abs" style="left:1495.3px;top:753.4px" width="11" height="8" viewBox="0 0 11 8"><path d="M1 1.3L5.500 6 10 1.300" stroke="#111" stroke-width="1.9" fill="none"/></svg>
<div class="abs" style="left:23px;top:794px;width:1495.2px;height:55.3px;background:#f7f7f7;"></div>
<div class="abs" style="left:30.2px;top:812.8px;width:13px;height:13px;background:#fff;border:1px solid #6e6e6e;border-radius:2.5px"></div>
<div class="t" style="left:46.2px;top:812.8px;font-size:12.6px;line-height:18px;font-weight:bold;">4.</div>
<div class="abs" style="left:80px;top:807px;width:78px;height:28px;background:#f9078c;border-radius:4.5px"></div>
<div class="abs" style="left:96.2px;top:819.4px;border-left:4.2px solid transparent;border-right:4.2px solid transparent;border-top:4.6px solid #fff"></div>
<div class="t" style="left:110.0px;top:812.4px;font-size:14px;line-height:18px;letter-spacing:-0.3px;transform:scaleX(0.892);font-weight:bold;color:#fff;">Action</div>
<div class="t" style="left:172.0px;top:802.0px;font-size:14px;line-height:18px;letter-spacing:-0.3px;transform:scaleX(0.93);font-weight:bold;">Willow, Barbara</div>
<div class="abs" style="left:171.2px;top:821px;width:44.8px;height:17.8px;background:#bcbcbc;border-radius:3px"></div>
<div class="t" style="left:178.8px;top:823.1px;font-size:11.7px;line-height:14px;letter-spacing:-0.25px;transform:scaleX(0.937);font-weight:bold;color:#fff;">Notes</div>
<div class="abs" style="left:219.2px;top:821px;width:77px;height:17.8px;background:#2c37b4;border-radius:3px"></div>
<div class="t" style="left:226.8px;top:823.1px;font-size:11.7px;line-height:14px;letter-spacing:-0.25px;transform:scaleX(0.933);font-weight:bold;color:#fff;">Background</div>
<div class="abs" style="left:299.2px;top:821px;width:64px;height:17.8px;background:#4fa6e1;border-radius:3px"></div>
<div class="t" style="left:306.8px;top:823.1px;font-size:11.7px;line-height:14px;letter-spacing:-0.25px;transform:scaleX(0.89);font-weight:bold;color:#fff;">Messages</div>
<div class="abs" style="left:366.3px;top:821px;width:49px;height:17.8px;background:#1f8b88;border-radius:3px"></div>
<div class="t" style="left:373.9px;top:823.1px;font-size:11.7px;line-height:14px;letter-spacing:-0.25px;transform:scaleX(0.956);font-weight:bold;color:#fff;">eForm</div>
<div class="abs" style="left:566.5px;top:801px;width:60.3px;height:17.8px;background:#6a92c7;border-radius:3px"></div>
<div class="t" style="left:574.1px;top:803.1px;font-size:11.7px;line-height:14px;letter-spacing:-0.25px;transform:scaleX(0.966);font-weight:bold;color:#fff;">bilingual</div>
<div class="abs" style="left:566.5px;top:822px;width:81px;height:17.8px;background:#6a92c7;border-radius:3px"></div>
<div class="t" style="left:574.1px;top:824.1px;font-size:11.7px;line-height:14px;letter-spacing:-0.25px;transform:scaleX(0.914);font-weight:bold;color:#fff;">Talent Pool A</div>
<div class="t" style="left:694.0px;top:812.2px;font-size:14.4px;line-height:18px;letter-spacing:-0.3px;transform:scaleX(0.898);">23-Feb-2023</div>
<div class="t" style="left:778.7px;top:812.2px;font-size:14.4px;line-height:18px;letter-spacing:-0.3px;transform:scaleX(0.948);">Accountant Division B</div>
<div class="t" style="left:996.7px;top:812.2px;font-size:14.4px;line-height:18px;letter-spacing:-0.3px;transform:scaleX(0.951);">CareerBuilder</div>
<div class="t" style="left:1104.2px;top:812.7px;font-size:13.4px;line-height:18px;">0</div>
<div class="t" style="left:1165.2px;top:803.6px;font-size:13.8px;line-height:18px;letter-spacing:-0.3px;transform:scaleX(0.889);font-weight:bold;">Yes</div><svg class="abs" style="left:1217.0px;top:812.7px" width="16.6" height="16.6" viewBox="0 0 24 24"><path fill="#ffa10f" d="M12 17.27L18.18 21l-1.64-7.030L22 9.240l-7.190-.610L12 2 9.190 8.630 2 9.240l5.460 4.730L5.820 21z"/></svg><svg class="abs" style="left:1236.6px;top:812.7px" width="16.6" height="16.6" viewBox="0 0 24 24"><path fill="#ffa10f" d="M12 17.27L18.18 21l-1.64-7.030L22 9.240l-7.190-.610L12 2 9.190 8.630 2 9.240l5.460 4.730L5.820 21z"/></svg><svg class="abs" style="left:1256.2px;top:812.7px" width="16.6" height="16.6" viewBox="0 0 24 24"><path fill="#ffa10f" d="M12 17.27L18.18 21l-1.64-7.030L22 9.240l-7.190-.610L12 2 9.190 8.630 2 9.240l5.460 4.730L5.820 21z"/></svg><svg class="abs" style="left:1275.8px;top:812.7px" width="16.6" height="16.6" viewBox="0 0 24 24"><path fill="#ffa10f" d="M12 17.27L18.18 21l-1.64-7.030L22 9.240l-7.190-.610L12 2 9.190 8.630 2 9.240l5.460 4.730L5.820 21z"/></svg><svg class="abs" style="left:1295.4px;top:812.7px" width="16.6" height="16.6" viewBox="0 0 24 24"><path fill="#ffa10f" d="M22 9.240l-7.190-.620L12 2 9.190 8.630 2 9.240l5.460 4.730L5.820 21 12 17.270 18.180 21l-1.630-7.030L22 9.240zM12 15.400l-3.760 2.270 1-4.280-3.320-2.880 4.380-.380L12 6.100l1.710 4.040 4.380.380-3.320 2.880 1 4.280L12 15.400z"/></svg>
<div class="abs" style="left:1326px;top:804px;width:184.7px;height:33.6px;background:#fff;border:1px solid #b5b5b5;border-radius:4px;box-shadow:0 0 2px rgba(0,0,0,.18)"></div>
<div class="t" style="left:1332.0px;top:812.4px;font-size:14.5px;line-height:18px;letter-spacing:-0.3px;transform:scaleX(0.954);">Not Qualified</div><svg class="abs" style="left:1495.3px;top:817.4px" width="11" height="8" viewBox="0 0 11 8"><path d="M1 1.3L5.500 6 10 1.300" stroke="#111" stroke-width="1.9" fill="none"/></svg>
<div class="abs" style="left:23px;top:849px;width:1495.2px;height:72.7px;background:#fff;"></div>
<div class="abs" style="left:30.2px;top:876.8px;width:13px;height:13px;background:#fff;border:1px solid #6e6e6e;border-radius:2.5px"></div>
<div class="t" style="left:46.2px;top:876.8px;font-size:12.6px;line-height:18px;font-weight:bold;">5.</div>
<div class="abs" style="left:80px;top:871px;width:78px;height:28px;background:#f9078c;border-radius:4.5px"></div>
<div class="abs" style="left:96.2px;top:883.4px;border-left:4.2px solid transparent;border-right:4.2px solid transparent;border-top:4.6px solid #fff"></div>
<div class="t" style="left:110.0px;top:876.4px;font-size:14px;line-height:18px;letter-spacing:-0.3px;transform:scaleX(0.892);font-weight:bold;color:#fff;">Action</div>
<div class="t" style="left:172.0px;top:855.3px;font-size:14px;line-height:18px;letter-spacing:-0.3px;transform:scaleX(0.937);font-weight:bold;">Smith, Alexander</div>
<div class="abs" style="left:171.2px;top:874px;width:44.8px;height:17.8px;background:#bcbcbc;border-radius:3px"></div>
<div class="t" style="left:178.8px;top:876.1px;font-size:11.7px;line-height:14px;letter-spacing:-0.25px;transform:scaleX(0.937);font-weight:bold;color:#fff;">Notes</div>
<div class="abs" style="left:219.2px;top:874px;width:77px;height:17.8px;background:#2c37b4;border-radius:3px"></div>
<div class="t" style="left:226.8px;top:876.1px;font-size:11.7px;line-height:14px;letter-spacing:-0.25px;transform:scaleX(0.933);font-weight:bold;color:#fff;">Background</div>
<div class="abs" style="left:299.2px;top:874px;width:64px;height:17.8px;background:#4fa6e1;border-radius:3px"></div>
<div class="t" style="left:306.8px;top:876.1px;font-size:11.7px;line-height:14px;letter-spacing:-0.25px;transform:scaleX(0.89);font-weight:bold;color:#fff;">Messages</div>
<div class="abs" style="left:366.3px;top:874px;width:60px;height:17.8px;background:#feb23c;border-radius:3px"></div><svg class="abs" style="left:373.6px;top:878.3px" width="9" height="10" viewBox="0 0 9 10"><path d="M0.8 5.6 L3 8.4 L7.9 0.9" stroke="#fff" stroke-width="1.5" fill="none"/></svg>
<div class="t" style="left:384.2px;top:876.1px;font-size:11.7px;line-height:14px;letter-spacing:-0.25px;transform:scaleX(0.917);font-weight:bold;color:#fff;">Wedge</div>
<div class="abs" style="left:429px;top:874px;width:53px;height:17.8px;background:#8d9797;border-radius:3px"></div>
<div class="t" style="left:436.6px;top:876.1px;font-size:11.7px;line-height:14px;letter-spacing:-0.25px;transform:scaleX(0.885);font-weight:bold;color:#fff;">SH Test</div>
<div class="abs" style="left:171px;top:895px;width:73.7px;height:17.8px;background:#b84ea5;border-radius:3px"></div><svg class="abs" style="left:178.3px;top:899.3px" width="9" height="10" viewBox="0 0 9 10"><path d="M0.8 5.6 L3 8.4 L7.9 0.9" stroke="#fff" stroke-width="1.5" fill="none"/></svg>
<div class="t" style="left:188.9px;top:897.1px;font-size:11.7px;line-height:14px;letter-spacing:-0.25px;transform:scaleX(0.97);font-weight:bold;color:#fff;">Interview</div>
<div class="abs" style="left:248px;top:895px;width:66px;height:17.8px;background:#8d9797;border-radius:3px"></div>
<div class="t" style="left:255.6px;top:897.1px;font-size:11.7px;line-height:14px;letter-spacing:-0.25px;transform:scaleX(0.931);font-weight:bold;color:#fff;">App Invite</div>
<div class="abs" style="left:566.5px;top:876px;width:60.3px;height:17.8px;background:#6a92c7;border-radius:3px"></div>
<div class="t" style="left:574.1px;top:878.1px;font-size:11.7px;line-height:14px;letter-spacing:-0.25px;transform:scaleX(0.966);font-weight:bold;color:#fff;">bilingual</div>
<div class="t" style="left:694.0px;top:876.2px;font-size:14.4px;line-height:18px;letter-spacing:-0.3px;transform:scaleX(0.898);">20-Feb-2023</div>
<div class="t" style="left:778.7px;top:876.2px;font-size:14.4px;line-height:18px;letter-spacing:-0.3px;transform:scaleX(0.928);">Cashier*</div>
<div class="t" style="left:996.7px;top:867.2px;font-size:14.4px;line-height:18px;letter-spacing:-0.3px;transform:scaleX(0.961);">LinkedIn</div>
<div class="t" style="left:996.7px;top:885.2px;font-size:14.4px;line-height:18px;letter-spacing:-0.3px;transform:scaleX(0.926);">Organic</div>
<div class="t" style="left:1104.2px;top:876.7px;font-size:13.4px;line-height:18px;">0</div>
<div class="t" style="left:1165.2px;top:867.6px;font-size:13.8px;line-height:18px;letter-spacing:-0.3px;transform:scaleX(0.889);font-weight:bold;">Yes</div><svg class="abs" style="left:1217.0px;top:876.7px" width="16.6" height="16.6" viewBox="0 0 24 24"><path fill="#ffa10f" d="M12 17.27L18.18 21l-1.64-7.030L22 9.240l-7.190-.610L12 2 9.190 8.630 2 9.240l5.460 4.730L5.820 21z"/></svg><svg class="abs" style="left:1236.6px;top:876.7px" width="16.6" height="16.6" viewBox="0 0 24 24"><path fill="#ffa10f" d="M12 17.27L18.18 21l-1.64-7.030L22 9.240l-7.190-.610L12 2 9.190 8.630 2 9.240l5.460 4.730L5.820 21z"/></svg><svg class="abs" style="left:1256.2px;top:876.7px" width="16.6" height="16.6" viewBox="0 0 24 24"><path fill="#ffa10f" d="M12 17.27L18.18 21l-1.64-7.030L22 9.240l-7.190-.610L12 2 9.190 8.630 2 9.240l5.460 4.730L5.820 21z"/></svg><svg class="abs" style="left:1275.8px;top:876.7px" width="16.6" height="16.6" viewBox="0 0 24 24"><path fill="#ffa10f" d="M12 17.27L18.18 21l-1.64-7.030L22 9.240l-7.190-.610L12 2 9.190 8.630 2 9.240l5.460 4.730L5.820 21z"/></svg><svg class="abs" style="left:1295.4px;top:876.7px" width="16.6" height="16.6" viewBox="0 0 24 24"><path fill="#ffa10f" d="M22 9.240l-7.190-.620L12 2 9.190 8.630 2 9.240l5.460 4.730L5.820 21 12 17.270 18.180 21l-1.630-7.030L22 9.240zM12 15.400l-3.760 2.270 1-4.280-3.320-2.880 4.380-.380L12 6.100l1.710 4.040 4.380.380-3.320 2.880 1 4.280L12 15.400z"/></svg>
<div class="abs" style="left:1326px;top:868px;width:184.7px;height:33.6px;background:#fff;border:1px solid #b5b5b5;border-radius:4px;box-shadow:0 0 2px rgba(0,0,0,.18)"></div>
<div class="t" style="left:1332.0px;top:876.4px;font-size:14.5px;line-height:18px;letter-spacing:-0.3px;transform:scaleX(0.959);">Interview Completed</div><svg class="abs" style="left:1495.3px;top:881.4px" width="11" height="8" viewBox="0 0 11 8"><path d="M1 1.3L5.500 6 10 1.300" stroke="#111" stroke-width="1.9" fill="none"/></svg>
<div class="abs" style="left:23px;top:921.7px;width:1495.2px;height:52.3px;background:#f7f7f7;"></div>
<div class="abs" style="left:30.2px;top:939.8px;width:13px;height:13px;background:#fff;border:1px solid #6e6e6e;border-radius:2.5px"></div>
<div class="t" style="left:46.2px;top:939.8px;font-size:12.6px;line-height:18px;font-weight:bold;">6.</div>
<div class="abs" style="left:80px;top:934px;width:78px;height:28px;background:#f9078c;border-radius:4.5px"></div>
<div class="abs" style="left:96.2px;top:946.4px;border-left:4.2px solid transparent;border-right:4.2px solid transparent;border-top:4.6px solid #fff"></div>
<div class="t" style="left:110.0px;top:939.4px;font-size:14px;line-height:18px;letter-spacing:-0.3px;transform:scaleX(0.892);font-weight:bold;color:#fff;">Action</div>
<div class="t" style="left:172.0px;top:928.0px;font-size:14px;line-height:18px;letter-spacing:-0.3px;transform:scaleX(0.932);font-weight:bold;">Jenkins, Jeff</div>
<div class="abs" style="left:171.2px;top:947px;width:63.8px;height:17.8px;background:#4fa6e1;border-radius:3px"></div>
<div class="t" style="left:178.8px;top:949.1px;font-size:11.7px;line-height:14px;letter-spacing:-0.25px;transform:scaleX(0.89);font-weight:bold;color:#fff;">Messages</div>
<div class="abs" style="left:238px;top:947px;width:73px;height:17.8px;background:#b84ea5;border-radius:3px"></div><svg class="abs" style="left:245.3px;top:951.3px" width="9" height="10" viewBox="0 0 9 10"><path d="M0.8 5.6 L3 8.4 L7.9 0.9" stroke="#fff" stroke-width="1.5" fill="none"/></svg>
<div class="t" style="left:255.9px;top:949.1px;font-size:11.7px;line-height:14px;letter-spacing:-0.25px;transform:scaleX(0.97);font-weight:bold;color:#fff;">Interview</div>
<div class="t" style="left:694.0px;top:939.2px;font-size:14.4px;line-height:18px;letter-spacing:-0.3px;transform:scaleX(0.898);">08-Feb-2023</div>
<div class="t" style="left:778.7px;top:939.2px;font-size:14.4px;line-height:18px;letter-spacing:-0.3px;transform:scaleX(0.959);">*Financial Analyst</div>
<div class="t" style="left:920.0px;top:939.2px;font-size:14.4px;line-height:18px;letter-spacing:-0.3px;transform:scaleX(0.897);">888</div>
<div class="t" style="left:996.7px;top:939.2px;font-size:14.4px;line-height:18px;letter-spacing:-0.3px;transform:scaleX(0.965);">SimplyHired</div>
<div class="t" style="left:1104.2px;top:939.7px;font-size:13.4px;line-height:18px;letter-spacing:-0.3px;transform:scaleX(0.934);">100</div>
<div class="t" style="left:1165.2px;top:930.6px;font-size:13.8px;line-height:18px;letter-spacing:-0.3px;transform:scaleX(0.889);font-weight:bold;">Yes</div><svg class="abs" style="left:1217.0px;top:939.7px" width="16.6" height="16.6" viewBox="0 0 24 24"><path fill="#ffa10f" d="M22 9.240l-7.190-.620L12 2 9.190 8.630 2 9.240l5.460 4.730L5.820 21 12 17.270 18.180 21l-1.630-7.030L22 9.240zM12 15.400l-3.760 2.270 1-4.280-3.320-2.880 4.380-.380L12 6.100l1.710 4.040 4.380.380-3.320 2.880 1 4.280L12 15.400z"/></svg><svg class="abs" style="left:1236.6px;top:939.7px" width="16.6" height="16.6" viewBox="0 0 24 24"><path fill="#ffa10f" d="M22 9.240l-7.190-.620L12 2 9.190 8.630 2 9.240l5.460 4.730L5.820 21 12 17.270 18.180 21l-1.630-7.030L22 9.240zM12 15.400l-3.760 2.270 1-4.280-3.320-2.880 4.380-.380L12 6.100l1.710 4.040 4.380.380-3.320 2.880 1 4.280L12 15.400z"/></svg><svg class="abs" style="left:1256.2px;top:939.7px" width="16.6" height="16.6" viewBox="0 0 24 24"><path fill="#ffa10f" d="M22 9.240l-7.190-.620L12 2 9.190 8.630 2 9.240l5.460 4.730L5.820 21 12 17.270 18.180 21l-1.630-7.030L22 9.240zM12 15.400l-3.760 2.270 1-4.280-3.320-2.880 4.380-.380L12 6.100l1.710 4.040 4.380.380-3.320 2.880 1 4.280L12 15.400z"/></svg><svg class="abs" style="left:1275.8px;top:939.7px" width="16.6" height="16.6" viewBox="0 0 24 24"><path fill="#ffa10f" d="M22 9.240l-7.190-.620L12 2 9.190 8.630 2 9.240l5.460 4.730L5.820 21 12 17.270 18.180 21l-1.630-7.030L22 9.240zM12 15.400l-3.760 2.270 1-4.280-3.320-2.880 4.380-.380L12 6.100l1.710 4.040 4.380.380-3.320 2.880 1 4.280L12 15.400z"/></svg><svg class="abs" style="left:1295.4px;top:939.7px" width="16.6" height="16.6" viewBox="0 0 24 24"><path fill="#ffa10f" d="M22 9.240l-7.190-.620L12 2 9.190 8.630 2 9.240l5.460 4.730L5.820 21 12 17.270 18.180 21l-1.630-7.030L22 9.240zM12 15.400l-3.760 2.270 1-4.280-3.320-2.880 4.380-.380L12 6.100l1.710 4.040 4.380.380-3.320 2.880 1 4.280L12 15.400z"/></svg>
<div class="abs" style="left:1326px;top:931px;width:184.7px;height:33.6px;background:#fff;border:1px solid #b5b5b5;border-radius:4px;box-shadow:0 0 2px rgba(0,0,0,.18)"></div>
<div class="t" style="left:1332.0px;top:939.4px;font-size:14.5px;line-height:18px;letter-spacing:-0.3px;transform:scaleX(0.91);">Reviewed</div><svg class="abs" style="left:1495.3px;top:944.4px" width="11" height="8" viewBox="0 0 11 8"><path d="M1 1.3L5.500 6 10 1.300" stroke="#111" stroke-width="1.9" fill="none"/></svg>
<div class="abs" style="left:23px;top:974px;width:1495.2px;height:73px;background:#fff;"></div>
<div class="abs" style="left:30.2px;top:1001.8px;width:13px;height:13px;background:#fff;border:1px solid #6e6e6e;border-radius:2.5px"></div>
<div class="t" style="left:46.2px;top:1001.8px;font-size:12.6px;line-height:18px;font-weight:bold;">7.</div>
<div class="abs" style="left:80px;top:996px;width:78px;height:28px;background:#f9078c;border-radius:4.5px"></div>
<div class="abs" style="left:96.2px;top:1008.4px;border-left:4.2px solid transparent;border-right:4.2px solid transparent;border-top:4.6px solid #fff"></div>
<div class="t" style="left:110.0px;top:1001.4px;font-size:14px;line-height:18px;letter-spacing:-0.3px;transform:scaleX(0.892);font-weight:bold;color:#fff;">Action</div>
<div class="t" style="left:172.0px;top:980.3px;font-size:14px;line-height:18px;letter-spacing:-0.3px;transform:scaleX(0.933);font-weight:bold;">Drake*, Rocky*</div>
<div class="abs" style="left:171.2px;top:999px;width:44.8px;height:17.8px;background:#bcbcbc;border-radius:3px"></div>
<div class="t" style="left:178.8px;top:1001.1px;font-size:11.7px;line-height:14px;letter-spacing:-0.25px;transform:scaleX(0.937);font-weight:bold;color:#fff;">Notes</div>
<div class="abs" style="left:219.2px;top:999px;width:77px;height:17.8px;background:#2c37b4;border-radius:3px"></div>
<div class="t" style="left:226.8px;top:1001.1px;font-size:11.7px;line-height:14px;letter-spacing:-0.25px;transform:scaleX(0.933);font-weight:bold;color:#fff;">Background</div>
<div class="abs" style="left:299.2px;top:999px;width:64px;height:17.8px;background:#4fa6e1;border-radius:3px"></div>
<div class="t" style="left:306.8px;top:1001.1px;font-size:11.7px;line-height:14px;letter-spacing:-0.25px;transform:scaleX(0.89);font-weight:bold;color:#fff;">Messages</div>
<div class="abs" style="left:366.3px;top:999px;width:87.7px;height:17.8px;background:#8d9797;border-radius:3px"></div><svg class="abs" style="left:373.6px;top:1003.3px" width="9" height="10" viewBox="0 0 9 10"><path d="M0.8 5.6 L3 8.4 L7.9 0.9" stroke="#fff" stroke-width="1.5" fill="none"/></svg>
<div class="t" style="left:384.2px;top:1001.1px;font-size:11.7px;line-height:14px;letter-spacing:-0.25px;transform:scaleX(0.897);font-weight:bold;color:#fff;">SH Score: 13</div>
<div class="abs" style="left:457px;top:999px;width:50px;height:17.8px;background:#feb23c;border-radius:3px"></div>
<div class="t" style="left:464.6px;top:1001.1px;font-size:11.7px;line-height:14px;letter-spacing:-0.25px;transform:scaleX(0.925);font-weight:bold;color:#fff;">Wedge</div>
<div class="abs" style="left:171px;top:1020px;width:49px;height:17.8px;background:#1f8b88;border-radius:3px"></div>
<div class="t" style="left:178.6px;top:1022.1px;font-size:11.7px;line-height:14px;letter-spacing:-0.25px;transform:scaleX(0.956);font-weight:bold;color:#fff;">eForm</div>
<div class="abs" style="left:223px;top:1020px;width:73px;height:17.8px;background:#b84ea5;border-radius:3px"></div><svg class="abs" style="left:230.3px;top:1024.3px" width="9" height="10" viewBox="0 0 9 10"><path d="M0.8 5.6 L3 8.4 L7.9 0.9" stroke="#fff" stroke-width="1.5" fill="none"/></svg>
<div class="t" style="left:240.9px;top:1022.1px;font-size:11.7px;line-height:14px;letter-spacing:-0.25px;transform:scaleX(0.97);font-weight:bold;color:#fff;">Interview</div>
<div class="abs" style="left:566.5px;top:990px;width:60.3px;height:17.8px;background:#6a92c7;border-radius:3px"></div>
<div class="t" style="left:574.1px;top:992.1px;font-size:11.7px;line-height:14px;letter-spacing:-0.25px;transform:scaleX(0.966);font-weight:bold;color:#fff;">bilingual</div>
<div class="abs" style="left:566.5px;top:1011px;width:88.7px;height:17.8px;background:#6a92c7;border-radius:3px"></div>
<div class="t" style="left:574.1px;top:1013.1px;font-size:11.7px;line-height:14px;letter-spacing:-0.25px;transform:scaleX(0.938);font-weight:bold;color:#fff;">Top Candidate</div>
<div class="t" style="left:694.0px;top:1001.2px;font-size:14.4px;line-height:18px;letter-spacing:-0.3px;transform:scaleX(0.898);">03-Feb-2023</div>
<div class="t" style="left:778.7px;top:1001.2px;font-size:14.4px;line-height:18px;letter-spacing:-0.3px;transform:scaleX(0.92);">Outside Sales*</div>
<div class="t" style="left:996.7px;top:992.2px;font-size:14.4px;line-height:18px;letter-spacing:-0.3px;transform:scaleX(0.941);">Indeed</div>
<div class="t" style="left:996.7px;top:1010.2px;font-size:14.4px;line-height:18px;letter-spacing:-0.3px;transform:scaleX(0.937);">Sponsored</div>
<div class="t" style="left:1104.2px;top:1001.7px;font-size:13.4px;line-height:18px;">0</div>
<div class="t" style="left:1165.2px;top:992.6px;font-size:13.8px;line-height:18px;letter-spacing:-0.3px;transform:scaleX(0.889);font-weight:bold;">Yes</div><svg class="abs" style="left:1217.0px;top:1001.7px" width="16.6" height="16.6" viewBox="0 0 24 24"><path fill="#ffa10f" d="M12 17.27L18.18 21l-1.64-7.030L22 9.240l-7.190-.610L12 2 9.190 8.630 2 9.240l5.460 4.730L5.820 21z"/></svg><svg class="abs" style="left:1236.6px;top:1001.7px" width="16.6" height="16.6" viewBox="0 0 24 24"><path fill="#ffa10f" d="M12 17.27L18.18 21l-1.64-7.030L22 9.240l-7.190-.610L12 2 9.190 8.630 2 9.240l5.460 4.730L5.820 21z"/></svg><svg class="abs" style="left:1256.2px;top:1001.7px" width="16.6" height="16.6" viewBox="0 0 24 24"><path fill="#ffa10f" d="M12 17.27L18.18 21l-1.64-7.030L22 9.240l-7.190-.610L12 2 9.190 8.630 2 9.240l5.460 4.730L5.820 21z"/></svg><svg class="abs" style="left:1275.8px;top:1001.7px" width="16.6" height="16.6" viewBox="0 0 24 24"><path fill="#ffa10f" d="M12 17.27L18.18 21l-1.64-7.030L22 9.240l-7.190-.610L12 2 9.190 8.630 2 9.240l5.460 4.730L5.820 21z"/></svg><svg class="abs" style="left:1295.4px;top:1001.7px" width="16.6" height="16.6" viewBox="0 0 24 24"><path fill="#ffa10f" d="M22 9.240l-7.190-.620L12 2 9.190 8.630 2 9.240l5.460 4.730L5.820 21 12 17.270 18.180 21l-1.630-7.030L22 9.240zM12 15.400V6.100l1.710 4.040 4.380.380-3.320 2.880 1 4.280L12 15.400z"/></svg>
<div class="abs" style="left:1326px;top:993px;width:184.7px;height:33.6px;background:#fff;border:1px solid #b5b5b5;border-radius:4px;box-shadow:0 0 2px rgba(0,0,0,.18)"></div>
<div class="t" style="left:1332.0px;top:1001.4px;font-size:14.5px;line-height:18px;letter-spacing:-0.3px;transform:scaleX(0.91);">Reviewed</div><svg class="abs" style="left:1495.3px;top:1006.4px" width="11" height="8" viewBox="0 0 11 8"><path d="M1 1.3L5.500 6 10 1.300" stroke="#111" stroke-width="1.9" fill="none"/></svg>
<div class="abs" style="left:0px;top:1033px;width:1722px;height:43px;background:#d1d1d1;"></div>
<div class="abs" style="left:-4px;top:1039.3px;width:399.2px;height:31.4px;background:#fff;border-radius:4px"></div><svg class="abs" style="left:372px;top:1047px" width="15" height="15" viewBox="0 0 15 15"><circle cx="6" cy="6" r="4.3" fill="none" stroke="#7d7d7d" stroke-width="1.4"/><path d="M9.200 9.200L13.200 13.200" stroke="#7d7d7d" stroke-width="1.7" stroke-linecap="round"/></svg>
<div class="abs" style="left:400px;top:1039px;width:217.3px;height:31.8px;background:#b4b4b4;border-radius:4.5px"></div>
<div class="t" style="left:410.0px;top:1046.3px;font-size:14.6px;line-height:18px;letter-spacing:-0.3px;transform:scaleX(0.933);color:#404040;">Common All Applicants Questions</div>
<div class="abs" style="left:621.3px;top:1039px;width:133px;height:31.8px;background:#b4b4b4;border-radius:4.5px"></div>
<div class="t" style="left:631.3px;top:1046.3px;font-size:14.6px;line-height:18px;letter-spacing:-0.3px;transform:scaleX(0.909);color:#404040;">mass status change</div>
<div class="abs" style="left:759px;top:1039px;width:154px;height:31.8px;background:#b4b4b4;border-radius:4.5px"></div>
<div class="t" style="left:769.0px;top:1046.3px;font-size:14.6px;line-height:18px;letter-spacing:-0.3px;transform:scaleX(0.98);color:#404040;">spotlighting applicants</div>
<div class="abs" style="left:917px;top:1039px;width:120.7px;height:31.8px;background:#b4b4b4;border-radius:4.5px"></div>
<div class="t" style="left:927.0px;top:1046.3px;font-size:14.6px;line-height:18px;letter-spacing:-0.3px;transform:scaleX(0.94);color:#404040;">assign applicants</div>
<div class="abs" style="left:1042px;top:1039px;width:168.2px;height:31.8px;background:#b4b4b4;border-radius:4.5px"></div>
<div class="t" style="left:1052.0px;top:1046.3px;font-size:14.6px;line-height:18px;letter-spacing:-0.3px;transform:scaleX(0.895);color:#404040;">Change Career Site Name</div>
<div class="abs" style="left:1214px;top:1039px;width:260px;height:31.8px;background:#b4b4b4;border-radius:4.5px"></div>
<div class="t" style="left:1224.0px;top:1046.3px;font-size:14.6px;line-height:18px;letter-spacing:-0.3px;transform:scaleX(0.937);color:#404040;">How to process applicants in iSolved Hire</div>
<div class="abs" style="left:1478px;top:1039px;width:166.7px;height:31.8px;background:#b4b4b4;border-radius:4.5px"></div>
<div class="t" style="left:1488.0px;top:1046.3px;font-size:14.6px;line-height:18px;letter-spacing:-0.3px;transform:scaleX(0.943);color:#404040;">How to Find an Applicant</div><svg class="abs" style="left:1636px;top:996px" width="76" height="62" viewBox="1636 996 76 62"><defs><clipPath id="bk"><ellipse cx="1680" cy="1030.8" rx="27.1" ry="17"/></clipPath></defs>
<g fill="#4f7fb5"><ellipse cx="1680" cy="1030.8" rx="27.1" ry="17"/><path d="M1697.3 1042.600 L1701.900 1052.300 Q1702 1053.200 1700.600 1052.900 Q1691 1050.500 1685.500 1046.500 Z"/>
<ellipse cx="1666.8" cy="1019.5" rx="30.3" ry="22.9" fill="#fff" clip-path="url(#bk)"/>
<ellipse cx="1666.800" cy="1019.500" rx="26" ry="18.600"/><path d="M1651 1034 Q1648.500 1039.500 1645.700 1042.200 Q1645.500 1043 1646.500 1042.900 Q1654 1041.500 1661.500 1037.300 Z"/></g></svg>
<div id="hdr">
<svg class="pat" width="1722" height="68"><defs><pattern id="dp" x="0" y="0" width="170" height="90" patternUnits="userSpaceOnUse"><circle cx="35.9" cy="0" r="9.9" fill="none" stroke="#1a1a1a" stroke-width="1.2"/><circle cx="78.4" cy="0" r="10.5" fill="#151515"/><circle cx="120.9" cy="0" r="10.5" fill="#151515"/><circle cx="163.4" cy="0" r="10.5" fill="#151515"/><circle cx="-6.6" cy="0" r="10.5" fill="#151515"/><circle cx="14.7" cy="12.5" r="10.5" fill="#151515"/><circle cx="57.2" cy="12.5" r="10.5" fill="#151515"/><circle cx="99.7" cy="12.5" r="10.5" fill="#151515"/><circle cx="142.2" cy="12.5" r="9.9" fill="none" stroke="#1a1a1a" stroke-width="1.2"/><circle cx="14.7" cy="37.2" r="9.9" fill="none" stroke="#1a1a1a" stroke-width="1.2"/><circle cx="57.2" cy="37.2" r="10.5" fill="#151515"/><circle cx="99.7" cy="37.2" r="9.9" fill="none" stroke="#1a1a1a" stroke-width="1.2"/><circle cx="142.2" cy="37.2" r="10.5" fill="#151515"/><circle cx="35.9" cy="49.5" r="10.5" fill="#151515"/><circle cx="78.4" cy="49.5" r="9.9" fill="none" stroke="#1a1a1a" stroke-width="1.2"/><circle cx="120.9" cy="49.5" r="10.5" fill="#151515"/><circle cx="163.4" cy="49.5" r="10.5" fill="#151515"/><circle cx="-6.6" cy="49.5" r="10.5" fill="#151515"/><circle cx="35.9" cy="74.4" r="10.5" fill="#151515"/><circle cx="78.4" cy="74.4" r="10.5" fill="#151515"/><circle cx="120.9" cy="74.4" r="10.5" fill="#151515"/><circle cx="163.4" cy="74.4" r="10.5" fill="#151515"/><circle cx="-6.6" cy="74.4" r="10.5" fill="#151515"/></pattern></defs><rect width="1722" height="68" fill="url(#dp)"/></svg><svg class="abs" style="left:30px;top:10px" width="150" height="46" viewBox="30 10 150 46">
<g fill="#fff" stroke="none">
<rect x="45.7" y="25.9" width="5.9" height="20"/>
<rect x="96.4" y="20.9" width="5.8" height="25"/>
<polygon points="103.7,25.9 110.4,25.9 114.75,38.2 119.1,25.9 125.8,25.9 117.9,45.9 111.6,45.9"/>
<rect x="161.9" y="20.9" width="5.8" height="25"/>
<rect x="128" y="34.6" width="16" height="3.9"/>
</g>
<g fill="none" stroke="#fff">
<ellipse cx="83.55" cy="35.9" rx="8.2" ry="7.6" stroke-width="6.3"/>
<ellipse cx="157.9" cy="35.9" rx="6.6" ry="7.6" stroke-width="6.0"/>
<path d="M144.2 40.6 A8.1 7.6 0 1 1 144.9 36" stroke-width="6.0"/>
<path d="M67.9 31.6 C67 29 65 28 62.4 28 C59.4 28 57.5 29.4 57.5 31.4 C57.500 33.900 60.000 34.800 62.600 35.600 C65.400 36.500 67.700 37.600 67.700 40.300 C67.700 42.600 65.500 43.900 62.600 43.900 C59.700 43.900 57.500 42.700 56.600 40.200" stroke-width="5.4"/>
</g>
<circle cx="44" cy="35.9" r="4.9" fill="#000"/>
<circle cx="44" cy="35.9" r="3.9" fill="#ff0a93"/>
</svg>
<div class="abs" style="left:375px;top:5px;width:100px;height:50px;background:#000;border-radius:4px"></div>
<div class="abs" style="left:284.6px;top:36.3px;font-size:13.6px;transform:scaleX(.956);transform-origin:0 0;font-weight:bold;letter-spacing:-0.55px;color:#fff;line-height:18px;white-space:nowrap">Dashboard</div><span class="abs" style="left:354.3px;top:43px;width:0;height:0;border-left:4px solid transparent;border-right:4px solid transparent;border-top:4.5px solid #fff"></span><svg class="abs" style="left:304.5px;top:9.5px" width="24" height="24" viewBox="0 0 24 24"><path fill="#fff" d="M3 13h8V3H3v10zm0 8h8v-6H3v6zm10 0h8V11h-8v10zm0-18v6h8V3h-8z"/></svg>
<div class="abs" style="left:389.6px;top:36.3px;font-size:13.6px;transform:scaleX(.956);transform-origin:0 0;font-weight:normal;letter-spacing:-0.05px;color:#ff0a93;line-height:18px;white-space:nowrap">Applicants</div><span class="abs" style="left:456.5px;top:43px;width:0;height:0;border-left:4px solid transparent;border-right:4px solid transparent;border-top:4.5px solid #ff0a93"></span><svg class="abs" style="left:405.8px;top:7.2px" width="28.5" height="28.5" viewBox="0 0 24 24"><path fill="#ff0a93" d="M16 11c1.66 0 2.99-1.34 2.99-3S17.66 5 16 5c-1.66 0-3 1.34-3 3s1.34 3 3 3zm-8 0c1.66 0 2.99-1.34 2.99-3S9.66 5 8 5C6.34 5 5 6.34 5 8s1.34 3 3 3zm0 2c-2.33 0-7 1.17-7 3.5V19h14v-2.5c0-2.33-4.67-3.5-7-3.5zm8 0c-.29 0-.62.02-.97.05 1.16.84 1.97 1.97 1.97 3.45V19h6v-2.5c0-2.33-4.67-3.5-7-3.5z"/></svg>
<div class="abs" style="left:492px;top:36.3px;font-size:13.6px;transform:scaleX(.956);transform-origin:0 0;font-weight:bold;letter-spacing:-0.65px;color:#fff;line-height:18px;white-space:nowrap">Jobs</div><span class="abs" style="left:525.5px;top:43px;width:0;height:0;border-left:4px solid transparent;border-right:4px solid transparent;border-top:4.5px solid #fff"></span><svg class="abs" style="left:496px;top:11px" width="21" height="21" viewBox="0 0 24 24"><path fill="#fff" d="M20 6h-4V4c0-1.11-.89-2-2-2h-4c-1.11 0-2 .89-2 2v2H4c-1.11 0-1.99.89-1.99 2L2 19c0 1.11.89 2 2 2h16c1.11 0 2-.89 2-2V8c0-1.11-.89-2-2-2zm-6 0h-4V4h4v2z"/></svg>
<div class="abs" style="left:561px;top:36.3px;font-size:13.6px;transform:scaleX(.956);transform-origin:0 0;font-weight:bold;letter-spacing:-0.6px;color:#fff;line-height:18px;white-space:nowrap">Reports</div><span class="abs" style="left:611.3px;top:43px;width:0;height:0;border-left:4px solid transparent;border-right:4px solid transparent;border-top:4.5px solid #fff"></span><svg class="abs" style="left:568.8px;top:6.5px" width="28.5" height="28.5" viewBox="0 0 24 24"><path fill="#fff" d="M23 8c0 1.1-.9 2-2 2-.18 0-.35-.02-.51-.07l-3.56 3.55c.05.16.07.34.07.52 0 1.1-.9 2-2 2s-2-.9-2-2c0-.18.02-.36.07-.52l-2.55-2.55c-.16.05-.34.07-.52.07s-.36-.02-.52-.07l-4.55 4.56c.05.16.07.33.07.51 0 1.1-.9 2-2 2s-2-.9-2-2 .9-2 2-2c.18 0 .35.02.51.07l4.56-4.55C8.02 9.36 8 9.18 8 9c0-1.1.9-2 2-2s2 .9 2 2c0 .18-.02.36-.07.52l2.55 2.55c.16-.05.34-.07.52-.07s.36.02.52.07l3.55-3.56C19.02 8.35 19 8.18 19 8c0-1.1.9-2 2-2s2 .9 2 2z"/></svg>
<div class="abs" style="left:647px;top:36.3px;font-size:13.6px;transform:scaleX(.956);transform-origin:0 0;font-weight:bold;letter-spacing:-0.4px;color:#fff;line-height:18px;white-space:nowrap">Marketplace</div><svg class="abs" style="left:668px;top:8px" width="30" height="27" viewBox="668 8 30 27"><g fill="#fff"><path d="M675.3 10 H690.7 L695.9 18 H670.1 Z"/><path d="M670.1 18.6 H695.9 A3.22 3.1 0 0 1 689.45 18.6 A3.22 3.1 0 0 1 683 18.6 A3.22 3.1 0 0 1 676.55 18.6 A3.22 3.1 0 0 1 670.1 18.6 Z"/><path fill-rule="evenodd" d="M672.1 21.5 H694 V32.7 H690 V23.3 H686 V32.7 H672.1 Z M675.9 23.3 V28.7 H682 V23.3 Z"/></g><g stroke="#000" stroke-width="0.9"><path d="M679.4 10 L676.8 18 M683 10 V18 M686.6 10 L689.2 18"/></g></svg>
<div class="vdiv" style="left:735px"></div>
<div class="abs" style="left:753.5px;top:36.3px;font-size:13.6px;transform:scaleX(.956);transform-origin:0 0;font-weight:bold;letter-spacing:-0.45px;color:#fff;line-height:18px;white-space:nowrap">Inbox</div><svg class="abs" style="left:759.1px;top:11.3px" width="21" height="21" viewBox="0 0 24 24"><path fill="#fff" d="M21 6h-2v9H6v2c0 .55.45 1 1 1h11l4 4V7c0-.55-.45-1-1-1zm-4 6V3c0-.55-.45-1-1-1H3c-.55 0-1 .45-1 1v14l4-4h10c.55 0 1-.45 1-1z"/></svg>
<div class="abs" style="left:818.5px;top:36.3px;font-size:13.6px;transform:scaleX(.956);transform-origin:0 0;font-weight:bold;letter-spacing:-0.6px;color:#fff;line-height:18px;white-space:nowrap">Add</div><span class="abs" style="left:847.5px;top:43px;width:0;height:0;border-left:4px solid transparent;border-right:4px solid transparent;border-top:4.5px solid #fff"></span><svg class="abs" style="left:820.1px;top:10.2px" width="21.5" height="21.5" viewBox="0 0 24 24"><path fill="#fff" d="M4 6H2v14c0 1.1.9 2 2 2h14v-2H4V6zm16-4H8c-1.1 0-2 .9-2 2v12c0 1.1.9 2 2 2h12c1.1 0 2-.9 2-2V4c0-1.1-.9-2-2-2zm-1 9h-4v4h-2v-4H9V9h4V5h2v4h4v2z"/></svg>
<div class="abs" style="left:1133.6px;top:9px;width:161.6px;height:42.4px;background:#f7f7f7;border-radius:4px"></div>
<div class="abs" style="left:1146px;top:21px;font-size:13.5px;letter-spacing:-0.3px;color:#6a6a6a;line-height:18px;white-space:nowrap">Search Applicants</div><svg class="abs" style="left:1270px;top:23px" width="14" height="14" viewBox="0 0 14 14"><circle cx="5.6" cy="5.6" r="4.1" fill="none" stroke="#6a6a6a" stroke-width="1.9"/><path d="M8.6 8.6L12.6 12.6" stroke="#6a6a6a" stroke-width="2.2" stroke-linecap="round"/></svg>
<div class="vdiv" style="left:1307px"></div><svg class="abs" style="left:1318.2px;top:13.5px" width="27.3" height="27.3" viewBox="0 0 24 24"><path fill="#fff" d="M17 3H7c-1.1 0-1.99.9-1.99 2L5 21l7-3 7 3V5c0-1.1-.9-2-2-2zm0 15l-5-2.18L7 18V5h10v13z"/></svg><svg class="abs" style="left:1350px;top:14px" width="30" height="28" viewBox="1350 14 30 28"><path d="M1359.6 21.6 A8.4 8.4 0 1 1 1357.6 29.2" fill="none" stroke="#fff" stroke-width="2.1"/><polygon points="1356.1,18.8 1356.1,26.7 1364,26.7" fill="#fff"/><path d="M1365.9 22.4 V27.9 L1361.9 30.6" fill="none" stroke="#fff" stroke-width="1.9"/></svg><svg class="abs" style="left:1386px;top:14.7px" width="25.5" height="25.5" viewBox="0 0 24 24"><path fill="#fff" d="M9 21c0 .55.45 1 1 1h4c.55 0 1-.45 1-1v-1H9v1zm3-19C8.14 2 5 5.14 5 9c0 2.38 1.19 4.47 3 5.74V17c0 .55.45 1 1 1h6c.55 0 1-.45 1-1v-2.26c1.81-1.27 3-3.36 3-5.74 0-3.86-3.14-7-7-7zm2.85 11.1l-.85.6V16h-4v-2.3l-.85-.6C7.8 12.16 7 10.63 7 9c0-2.76 2.24-5 5-5s5 2.24 5 5c0 1.63-.8 3.16-2.15 4.1z"/></svg><svg class="abs" style="left:1419px;top:15.75px" width="25.3" height="25.3" viewBox="0 0 24 24"><path fill="#fff" d="M17 12h-5v5h5v-5zM16 1v2H8V1H6v2H5c-1.11 0-1.99.9-1.99 2L3 19c0 1.1.89 2 2 2h14c1.1 0 2-.9 2-2V5c0-1.1-.9-2-2-2h-1V1h-2zm3 18H5V8h14v11z"/></svg><svg class="abs" style="left:1451.7px;top:14.6px" width="26" height="26" viewBox="0 0 24 24"><path fill="#fff" d="M11 18h2v-2h-2v2zm1-16C6.48 2 2 6.48 2 12s4.48 10 10 10 10-4.48 10-10S17.52 2 12 2zm0 18c-4.41 0-8-3.59-8-8s3.59-8 8-8 8 3.59 8 8-3.59 8-8 8zm0-14c-2.21 0-4 1.79-4 4h2c0-1.1.9-2 2-2s2 .9 2 2c0 2-3 1.75-3 5h2c0-2.25 3-2.5 3-5 0-2.21-1.79-4-4-4z"/></svg><svg class="abs" style="left:1484px;top:14.6px" width="26" height="26" viewBox="0 0 24 24"><path fill="#fff" d="M19.14 12.94c.04-.3.06-.61.06-.94 0-.32-.02-.64-.07-.94l2.03-1.58c.18-.14.23-.41.12-.61l-1.92-3.32c-.12-.22-.37-.29-.59-.22l-2.39.96c-.5-.38-1.03-.7-1.62-.94l-.36-2.54c-.04-.24-.24-.41-.48-.41h-3.84c-.24 0-.43.17-.47.41l-.36 2.54c-.59.24-1.13.57-1.62.94l-2.39-.96c-.22-.08-.47 0-.59.22L2.74 8.87c-.12.21-.08.47.12.61l2.03 1.58c-.05.3-.09.63-.09.94s.02.64.07.94l-2.03 1.58c-.18.14-.23.41-.12.61l1.92 3.32c.12.22.37.29.59.22l2.39-.96c.5.38 1.03.7 1.62.94l.36 2.54c.05.24.24.41.48.41h3.84c.24 0 .44-.17.47-.41l.36-2.54c.59-.24 1.13-.56 1.62-.94l2.39.96c.22.08.47 0 .59-.22l1.92-3.32c.12-.22.07-.47-.12-.61l-2.01-1.58zM12 15.6c-1.98 0-3.6-1.62-3.6-3.6s1.62-3.6 3.6-3.6 3.6 1.62 3.6 3.6-1.62 3.6-3.6 3.6z"/></svg>
</div>
</div>
</body></html>
